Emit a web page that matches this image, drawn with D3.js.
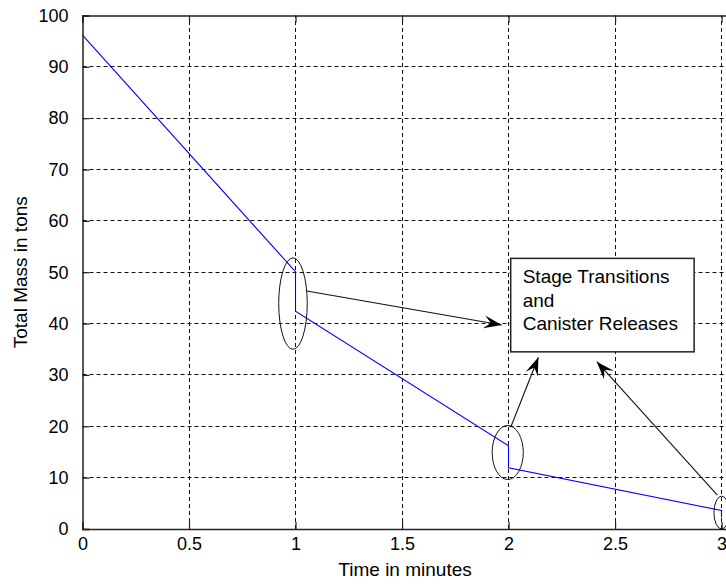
<!DOCTYPE html>
<html>
<head>
<meta charset="utf-8">
<script src="https://cdn.jsdelivr.net/npm/d3@7"></script>
<style>
  body { margin: 0; background: #fff; }
  text { font-family: "Liberation Sans", Arial, sans-serif; fill: #000; }
</style>
</head>
<body>
<div id="chart"></div>
<script>
const width = 726;
const height = 586;
const margin = { top: 15.5, right: -2, bottom: 57, left: 82.5 };

// mass profile (minutes, tons)
const timeMin = [0, 1, 1, 2, 2, 3, 3];
const massTons = [96.2, 50.1, 42.4, 16.2, 11.9, 3.6, 2.3];

const xTicks = [0, 0.5, 1, 1.5, 2, 2.5, 3];
const yTicks = [0, 10, 20, 30, 40, 50, 60, 70, 80, 90, 100];

// annotations in data units
const ellipseCx = [0.988, 1.996, 3.0];
const ellipseCy = [43.9, 14.9, 3.2];
const ellipseRx = [0.067, 0.073, 0.036];
const ellipseRy = [8.9, 5.26, 3.2];

const arrowFrom = [[1.053, 46.35], [2.010, 19.8], [2.980, 6.62]];
const arrowTo = [[1.968, 39.73], [2.140, 33.44], [2.414, 32.58]];

const boxCorner = [2.010, 52.7, 2.871, 34.5];
const boxLines = ["Stage Transitions", "and", "Canister Releases"];

const svg = d3.select("#chart")
    .append("svg")
    .attr("width", width)
    .attr("height", height);

const x = d3.scaleLinear().domain([0, 3.03]).range([margin.left, width - margin.right]);
const y = d3.scaleLinear().domain([0, 100]).range([height - margin.bottom, margin.top]);

const x0 = x(0), x1 = x(3.03), y0 = y(0), y1 = y(100);
const crisp = v => Math.floor(v) + 0.5;

// grid
const grid = svg.append("g")
    .attr("stroke", "#111")
    .attr("stroke-width", 1)
    .attr("stroke-dasharray", "4,3");

grid.selectAll(".gx")
    .data(xTicks.filter(d => d > 0))
    .enter().append("line")
    .attr("x1", d => crisp(x(d)))
    .attr("x2", d => crisp(x(d)))
    .attr("y1", y0)
    .attr("y2", y1);

grid.selectAll(".gy")
    .data(yTicks.filter(d => d > 0 && d < 100))
    .enter().append("line")
    .attr("x1", x0)
    .attr("x2", x1)
    .attr("y1", d => crisp(y(d)))
    .attr("y2", d => crisp(y(d)));

// axes (ticks inward)
const xAxis = svg.append("g")
    .attr("transform", `translate(0,${y0})`)
    .call(d3.axisBottom(x).tickValues(xTicks).tickSize(-7).tickPadding(14).tickFormat(d3.format("")));

const xAxisTop = svg.append("g")
    .attr("transform", `translate(0,${y1})`)
    .call(d3.axisTop(x).tickValues(xTicks).tickSize(-7).tickFormat(""));

const yAxis = svg.append("g")
    .attr("transform", `translate(${x0},0)`)
    .call(d3.axisLeft(y).tickValues(yTicks).tickSize(-7).tickPadding(14));

[xAxis, xAxisTop, yAxis].forEach(g => {
    g.select(".domain").attr("stroke", "#222").attr("stroke-width", 1.5);
    g.selectAll(".tick line").attr("stroke", "#222").attr("stroke-width", 1.2);
    g.selectAll("text").style("font-size", "18px").attr("fill", "#000");
});
xAxis.selectAll("text").attr("dy", "0.4em");

// data line
const line = d3.line()
    .x((d, i) => crisp(x(timeMin[i])))
    .y(d => y(d));

svg.append("path")
    .datum(massTons)
    .attr("fill", "none")
    .attr("stroke", "#0000ff")
    .attr("stroke-width", 1.1)
    .attr("d", line);

// ellipses
svg.selectAll(".ell")
    .data(ellipseCx)
    .enter().append("ellipse")
    .attr("cx", d => x(d))
    .attr("cy", (d, i) => y(ellipseCy[i]))
    .attr("rx", (d, i) => x(ellipseRx[i]) - x(0))
    .attr("ry", (d, i) => y(0) - y(ellipseRy[i]))
    .attr("fill", "none")
    .attr("stroke", "#111")
    .attr("stroke-width", 1);

// arrows
function arrowHead(p0, p1) {
    const ang = Math.atan2(p1[1] - p0[1], p1[0] - p0[0]);
    const len = 18, half = 6.5, back = 11;
    const pts = [[0, 0], [-len, -half], [-back, 0], [-len, half]];
    return "M" + pts.map(([u, v]) => [
        p1[0] + u * Math.cos(ang) - v * Math.sin(ang),
        p1[1] + u * Math.sin(ang) + v * Math.cos(ang)
    ].join(",")).join("L") + "Z";
}

arrowFrom.forEach((f, i) => {
    const p0 = [x(f[0]), y(f[1])];
    const p1 = [x(arrowTo[i][0]), y(arrowTo[i][1])];
    svg.append("line")
        .attr("x1", p0[0]).attr("y1", p0[1])
        .attr("x2", p1[0]).attr("y2", p1[1])
        .attr("stroke", "#111")
        .attr("stroke-width", 1.1);
    svg.append("path")
        .attr("d", arrowHead(p0, p1))
        .attr("fill", "#000");
});

// text box
const bx = x(boxCorner[0]), by = y(boxCorner[1]);
const bw = x(boxCorner[2]) - bx, bh = y(boxCorner[3]) - by;
svg.append("rect")
    .attr("x", bx).attr("y", by)
    .attr("width", bw).attr("height", bh)
    .attr("fill", "#fff")
    .attr("stroke", "#222")
    .attr("stroke-width", 1.5);

svg.append("g").selectAll("text")
    .data(boxLines)
    .enter().append("text")
    .attr("x", bx + 12)
    .attr("y", (d, i) => by + 25 + i * 23.5)
    .style("font-size", "19px")
    .text(d => d);

// axis labels
svg.append("text")
    .attr("x", x(1.5) + 3)
    .attr("y", 576)
    .attr("text-anchor", "middle")
    .style("font-size", "19px")
    .text("Time in minutes");

svg.append("text")
    .attr("transform", `translate(27,${(y0 + y1) / 2}) rotate(-90)`)
    .attr("text-anchor", "middle")
    .style("font-size", "19px")
    .text("Total Mass in tons");
</script>
</body>
</html>
